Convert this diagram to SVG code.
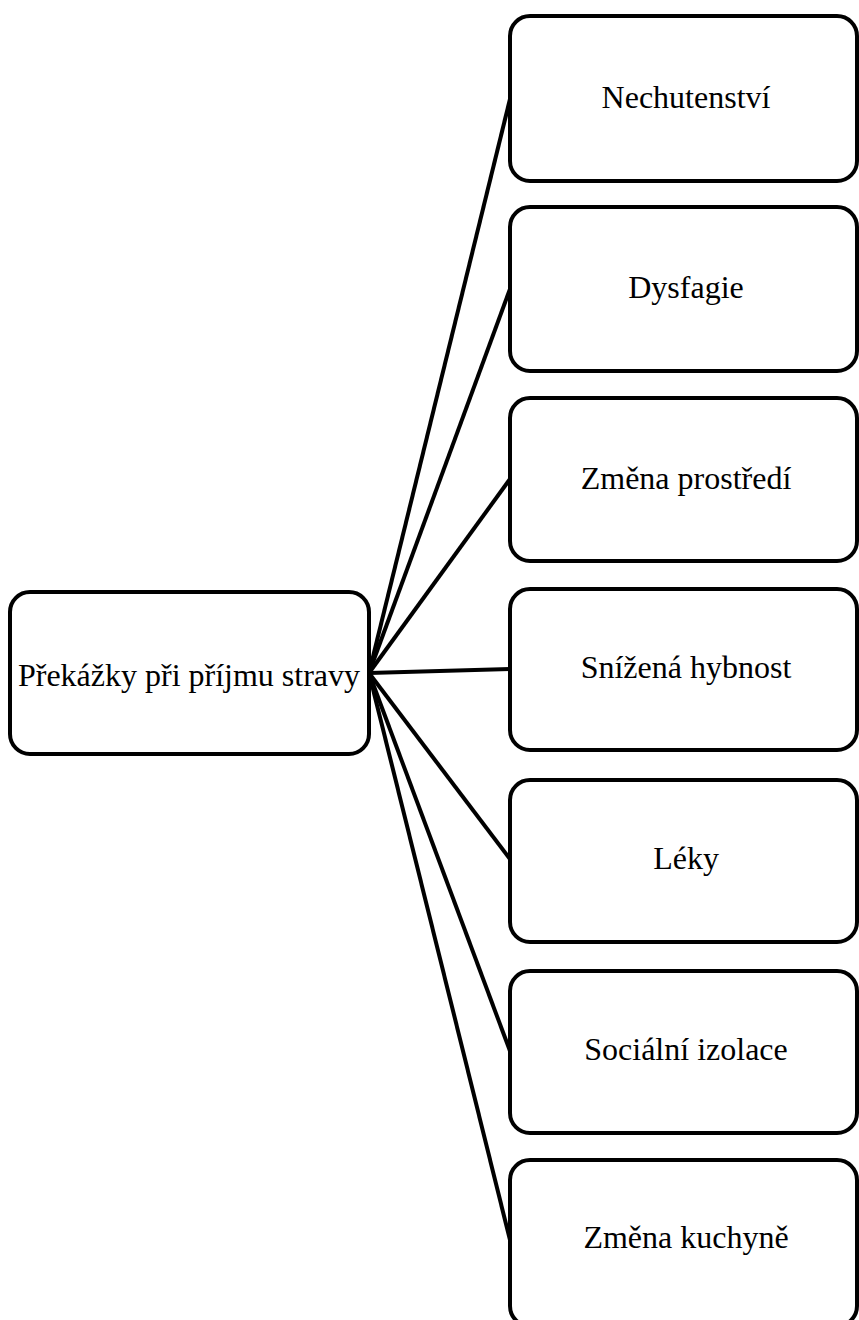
<svg xmlns="http://www.w3.org/2000/svg" width="859" height="1320" viewBox="0 0 859 1320">
<style>
.box{fill:#fff;stroke:#000;stroke-width:4}
.lbl{font-family:"Liberation Serif","Times New Roman",serif;font-size:32px;fill:#000;text-anchor:middle}
.con line{stroke:#000;stroke-width:4}
</style>
<rect width="859" height="1320" fill="#fff"/>
<g class="con">
<line x1="369" y1="673" x2="510" y2="99"/>
<line x1="369" y1="673" x2="510" y2="289"/>
<line x1="369" y1="673" x2="510" y2="479"/>
<line x1="369" y1="673" x2="510" y2="669"/>
<line x1="369" y1="673" x2="510" y2="859"/>
<line x1="369" y1="673" x2="510" y2="1051"/>
<line x1="369" y1="673" x2="510" y2="1240"/>
</g>
<g id="root"><rect class="box" x="10" y="592" width="359" height="162" rx="20"/><text class="lbl" x="189" y="686">Překážky při příjmu stravy</text></g>
<g id="n1"><rect class="box" x="510" y="16" width="347" height="165" rx="20"/><text class="lbl" x="686" y="108">Nechutenství</text></g>
<g id="n2"><rect class="box" x="510" y="207" width="347" height="164" rx="20"/><text class="lbl" x="686" y="298">Dysfagie</text></g>
<g id="n3"><rect class="box" x="510" y="398" width="347" height="163" rx="20"/><text class="lbl" x="686" y="489">Změna prostředí</text></g>
<g id="n4"><rect class="box" x="510" y="589" width="347" height="161" rx="20"/><text class="lbl" x="686" y="678">Snížená hybnost</text></g>
<g id="n5"><rect class="box" x="510" y="780" width="347" height="162" rx="20"/><text class="lbl" x="686" y="869">Léky</text></g>
<g id="n6"><rect class="box" x="510" y="971" width="347" height="162" rx="20"/><text class="lbl" x="686" y="1060">Sociální izolace</text></g>
<g id="n7"><rect class="box" x="510" y="1160" width="347" height="166" rx="20"/><text class="lbl" x="686" y="1248">Změna kuchyně</text></g>
</svg>
